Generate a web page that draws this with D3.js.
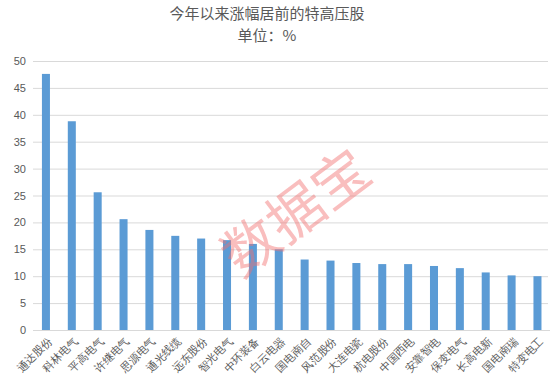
<!DOCTYPE html>
<html>
<head>
<meta charset="utf-8">
<script src="https://cdn.jsdelivr.net/npm/d3@7"></script>
<style>
  body { margin: 0; background: #fff; }
  svg { display: block; font-family: "Noto Sans CJK SC", "Microsoft YaHei", sans-serif; }
</style>
</head>
<body>
<svg id="chart"></svg>
<script>
// data
const stocks = ["通达股份", "科林电气", "平高电气", "许继电气", "思源电气", "通光线缆", "远东股份", "智光电气",
  "中环装备", "白云电器", "国电南自", "风范股份", "大连电瓷", "杭电股份", "中国西电", "安靠智电",
  "保变电气", "长高电新", "国电南瑞", "特变电工"];
const gains = [47.6, 38.8, 25.6, 20.6, 18.6, 17.5, 17.0, 16.7, 16.0, 15.0, 13.1, 12.9, 12.45, 12.25, 12.25,
  11.9, 11.5, 10.7, 10.15, 10.0];
const yTicks = [0, 5, 10, 15, 20, 25, 30, 35, 40, 45, 50];

const config = {
  width: 550, height: 381,
  margin: {top: 61, right: 0, bottom: 51, left: 33}
};

const svg = d3.select("#chart")
  .attr("width", config.width)
  .attr("height", config.height);

const x = d3.scaleBand()
  .domain(stocks)
  .range([config.margin.left, 550.4])
  .paddingInner(0.69)
  .paddingOuter(0.345);

const y = d3.scaleLinear()
  .domain([0, 50])
  .range([config.height - config.margin.bottom, config.margin.top]);

// title, two lines
svg.append("text")
  .attr("x", 267).attr("y", 19)
  .attr("text-anchor", "middle")
  .style("font-size", "15px").style("fill", "#595959")
  .text("今年以来涨幅居前的特高压股");
svg.append("text")
  .attr("x", 267).attr("y", 41)
  .attr("text-anchor", "middle")
  .style("font-size", "15px").style("fill", "#595959")
  .text("单位：%");

// gridlines + y labels
const yAxis = svg.append("g")
  .attr("transform", `translate(${config.margin.left},0)`)
  .call(d3.axisLeft(y).tickValues(yTicks).tickSize(-(548 - config.margin.left)).tickPadding(7));
yAxis.select(".domain").remove();
yAxis.selectAll(".tick line").attr("stroke", "#d9d9d9").attr("stroke-width", 1);
yAxis.selectAll(".tick text")
  .style("font-size", "11px").style("fill", "#595959")
  .style("font-family", "'Liberation Sans', Arial, sans-serif");

// bars
svg.append("g").selectAll("rect")
  .data(stocks)
  .join("rect")
  .attr("x", (d) => x(d))
  .attr("width", x.bandwidth())
  .attr("y", (d, i) => y(gains[i]))
  .attr("height", (d, i) => y(0) - y(gains[i]))
  .attr("fill", "#5b9bd5");

// x axis
const xAxis = svg.append("g")
  .attr("transform", `translate(0,${y(0)})`)
  .call(d3.axisBottom(x).tickSize(0).tickPadding(0));
xAxis.select(".domain").attr("stroke", "#d9d9d9");
xAxis.selectAll(".tick text")
  .attr("text-anchor", "end")
  .attr("transform", "translate(4,9) rotate(-45)")
  .attr("dy", "0.35em")
  .style("font-size", "11px").style("fill", "#595959");

// watermark
svg.append("text")
  .attr("transform", "translate(296,213) rotate(-37)")
  .attr("text-anchor", "middle")
  .attr("dy", "0.35em")
  .style("font-size", "56px")
  .style("fill", "rgba(242,110,110,0.45)")
  .text("数据宝");
</script>
</body>
</html>
